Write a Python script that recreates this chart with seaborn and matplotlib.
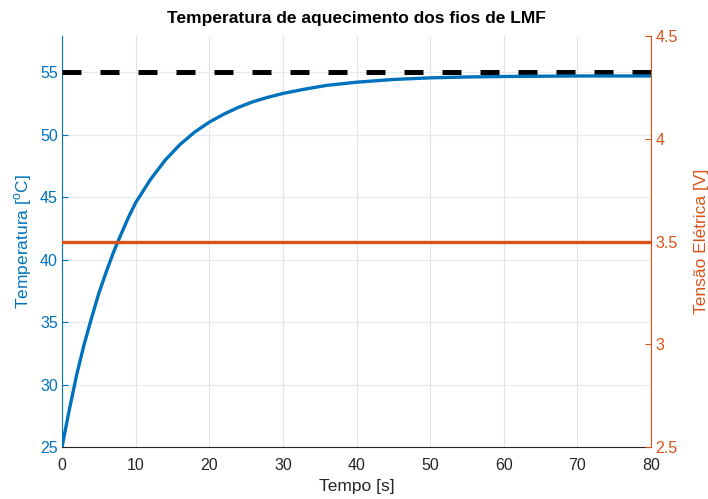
import numpy as np
import pandas as pd
import matplotlib
matplotlib.use('Agg')
import matplotlib.pyplot as plt
import seaborn as sns

# --- dados ---
tempo = [0, 1, 2, 3, 4, 5, 6, 7, 8, 9, 10, 12, 14, 16, 18, 20, 22, 24, 26, 28,
         30, 33, 36, 40, 45, 50, 55, 60, 65, 70, 75, 80]
temperatura = [25.0, 28.0, 30.8, 33.2, 35.3, 37.3, 39.0, 40.6, 42.0, 43.35, 44.55,
               46.4, 47.95, 49.2, 50.2, 51.0, 51.65, 52.2, 52.65, 53.0, 53.3, 53.65,
               53.95, 54.2, 54.42, 54.55, 54.62, 54.66, 54.68, 54.7, 54.7, 54.7]
temp_ref = 55.0      # referência (tracejado)
tensao = 3.5         # tensão aplicada [V]

x_ticks = [0, 10, 20, 30, 40, 50, 60, 70, 80]
y_ticks_temp = [25, 30, 35, 40, 45, 50, 55]
y_ticks_tensao = [2.5, 3, 3.5, 4, 4.5]
y_labels_tensao = ['2.5', '3', '3.5', '4', '4.5']

azul = '#0072BD'
laranja = '#D95319'
cinza = '#262626'

sns.set_style('white')
plt.rcParams['font.family'] = ['Liberation Sans', 'DejaVu Sans']

df = pd.DataFrame({'Tempo': tempo, 'Temperatura': temperatura})

fig = plt.figure(figsize=(7.08, 4.99), dpi=100)
ax = fig.add_axes([62/708, 1 - 447/499, (651 - 62)/708, (447 - 36)/499])
ax2 = ax.twinx()

# grade
ax.set_axisbelow(True)
for xt in x_ticks:
    ax.axvline(xt, color='#e3e3e3', lw=0.8, zorder=0)
for yt in y_ticks_temp:
    ax.axhline(yt, color='#e2eaf2', lw=0.8, zorder=0)

ax.axhline(temp_ref, color='black', lw=3.6, linestyle=(0, (3.8, 3.8)), zorder=3)
sns.lineplot(data=df, x='Tempo', y='Temperatura', ax=ax, color=azul, lw=2.4, zorder=4)

ax2.axhline(tensao, color=laranja, lw=2.4)

ax.set_xlim(0, 80)
ax.set_ylim(25, 57.9)
ax2.set_ylim(2.5, 4.5)

ax.set_xticks(x_ticks)
ax.set_yticks(y_ticks_temp)
ax2.set_yticks(y_ticks_tensao)
ax2.set_yticklabels(y_labels_tensao)

ax.tick_params(axis='x', direction='in', length=4, colors=cinza, labelsize=11.5, pad=8)
ax.tick_params(axis='y', direction='in', length=4, colors=azul, labelsize=11.5, pad=3)
ax2.tick_params(axis='y', direction='in', length=4, colors=laranja, labelsize=11.5, pad=3)

ax.spines['top'].set_visible(False)
ax2.spines['top'].set_visible(False)
ax.spines['right'].set_visible(False)
ax.spines['bottom'].set_color(cinza)
ax2.spines['bottom'].set_visible(False)
ax2.spines['left'].set_visible(False)
ax.spines['left'].set_color(azul)
ax2.spines['right'].set_color(laranja)
for sp in [ax.spines['left'], ax.spines['bottom'], ax2.spines['right']]:
    sp.set_linewidth(0.8)

ax.set_xlabel('Tempo [s]', fontsize=12.5, color=cinza, labelpad=4)
ax.set_ylabel('Temperatura [$^\\mathregular{o}$C]', fontsize=12.5, color=azul, labelpad=4)
ax2.set_ylabel('Tensão Elétrica [V]', fontsize=12.5, color=laranja, labelpad=12)
ax.set_title('Temperatura de aquecimento dos fios de LMF', fontsize=12.5,
             fontweight='bold', color='black', pad=9)

fig.savefig('out.png', dpi=100)
